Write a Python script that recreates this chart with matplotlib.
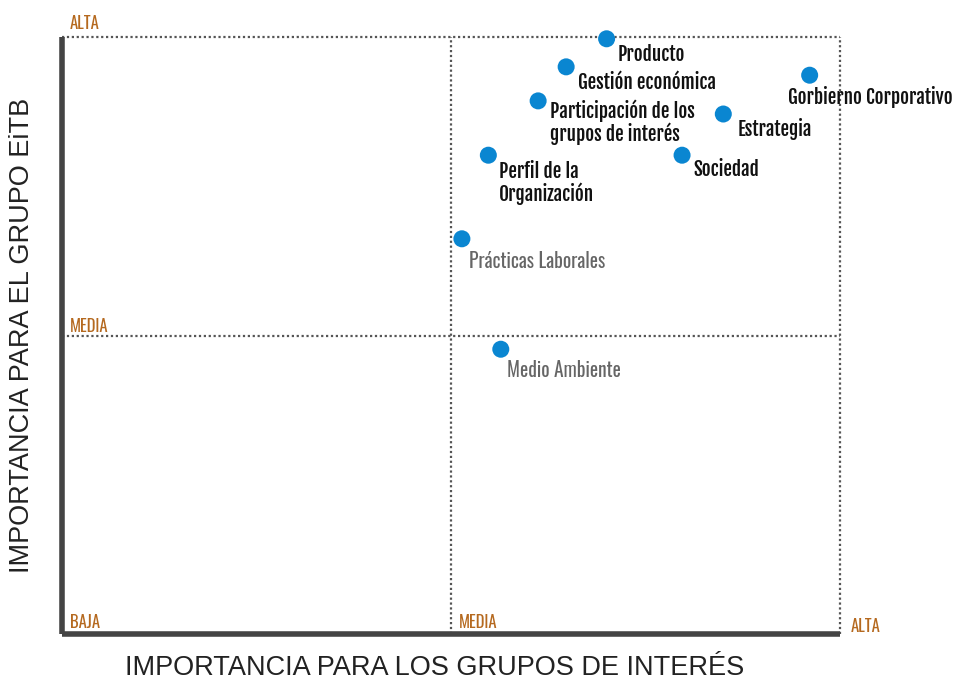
import matplotlib
matplotlib.use('Agg')
import matplotlib.pyplot as plt

# temas de materialidad (importancia grupos de interés x importancia EiTB)
temas = ['Producto', 'Gestión económica', 'Participación de los\ngrupos de interés',
         'Perfil de la\nOrganización', 'Prácticas Laborales', 'Medio Ambiente',
         'Sociedad', 'Estrategia', 'Gorbierno Corporativo']
imp_grupos = [70.0, 64.8, 61.2, 54.8, 51.4, 56.4, 79.7, 85.0, 96.1]
imp_eitb = [99.7, 95.0, 89.3, 80.2, 66.2, 47.7, 80.2, 87.1, 93.6]
destacado = [True, True, True, True, False, False, True, True, True]
# desplazamiento de la etiqueta (pixeles)
desp = [(11, -5), (12, -5), (12, 1), (11, -6), (7, -12), (6, -11), (11, -4), (14, -4), (-22, -11)]

niveles = ['BAJA', 'MEDIA', 'ALTA']

cond = ['Oswald', 'Barlow Condensed', 'DejaVu Sans']
negrita = ['Fjalla One', 'Oswald', 'DejaVu Sans']
naranja = '#b5691f'
azul = '#0a86d1'
gris = '#555555'

fig = plt.figure(figsize=(9.54, 6.82), dpi=100)
ax = fig.add_axes([62/954, 1-634/682, (840-62)/954, (634-37)/682])
ax.set_xlim(0, 100)
ax.set_ylim(0, 100)

# lineas punteadas
ax.axhline(50, color=gris, lw=1.6, ls=(0, (1, 1.2)), zorder=1)
ax.axhline(100, color=gris, lw=1.6, ls=(0, (1, 1.2)), zorder=1, clip_on=False)
ax.axvline(50, color=gris, lw=1.6, ls=(0, (1, 1.2)), zorder=1)
ax.axvline(100, color=gris, lw=1.6, ls=(0, (1, 1.2)), zorder=1, clip_on=False)

for s in ['top', 'right']:
    ax.spines[s].set_visible(False)
for s in ['left', 'bottom']:
    ax.spines[s].set_linewidth(4)
    ax.spines[s].set_color('#444444')
    ax.spines[s].set_capstyle('butt')
ax.set_xticks([])
ax.set_yticks([])

ax.scatter(imp_grupos, imp_eitb, s=150, color=azul, zorder=5, clip_on=False, edgecolors='none')

for t, x, y, d, dest in zip(temas, imp_grupos, imp_eitb, desp, destacado):
    ax.annotate(t, (x, y), xytext=d, textcoords='offset pixels', ha='left', va='top',
                fontsize=13.8 if dest else 14, fontweight='normal',
                color='#111111' if dest else '#666666', family=negrita if dest else cond,
                linespacing=1.02, zorder=6)

# etiquetas de nivel
kw = dict(color=naranja, fontsize=12, family=cond, fontweight='semibold', va='bottom')
ax.text(1, 100.9, niveles[2], **kw)
ax.text(1, 50.1, niveles[1], **kw)
ax.text(1, 0.5, niveles[0], **kw)
ax.text(51, 0.5, niveles[1], **kw)
ax.text(101.4, -0.2, niveles[2], **kw)

fig.text(435/954, 1-668/682, 'IMPORTANCIA PARA LOS GRUPOS DE INTERÉS', ha='center', va='center',
         fontsize=19.5, family=['Liberation Sans', 'DejaVu Sans'], color='#222222')
fig.text(22/954, 1-335/682, 'IMPORTANCIA PARA EL GRUPO EiTB', ha='center', va='center',
         rotation=90, fontsize=19.5, family=['Liberation Sans', 'DejaVu Sans'], color='#222222')

fig.savefig('out.png', dpi=100)
